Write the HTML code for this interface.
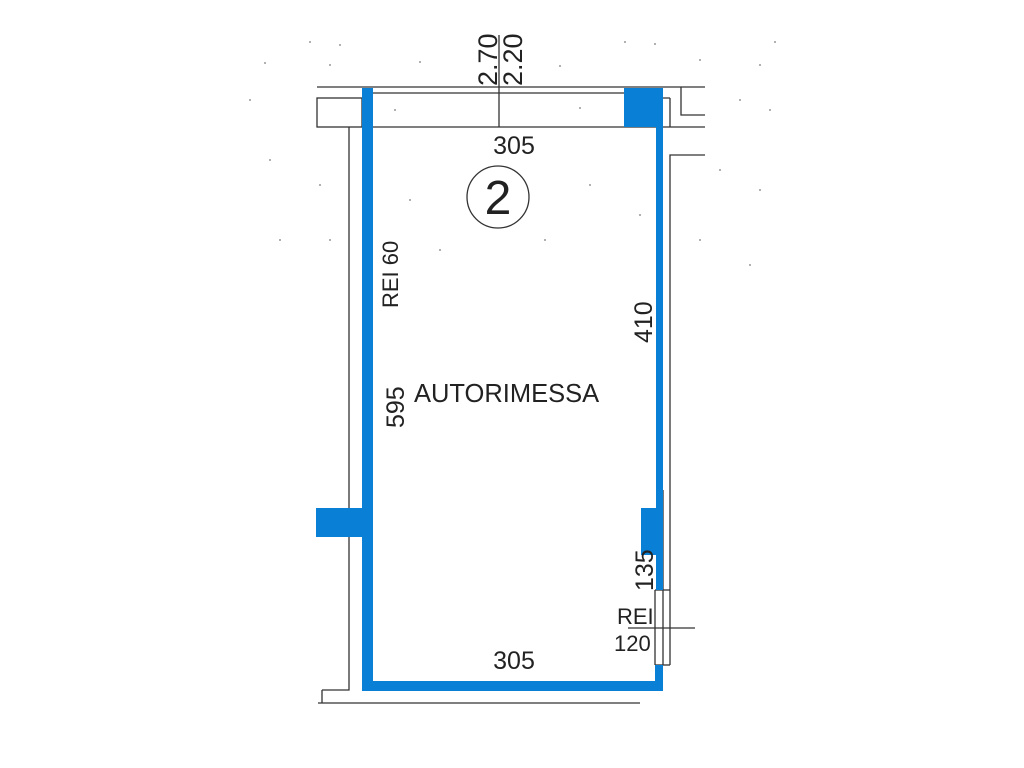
<!DOCTYPE html>
<html><head><meta charset="utf-8"><style>
html,body{margin:0;padding:0;background:#fff;}
svg{display:block;}
text{font-family:"Liberation Sans",sans-serif;fill:#222;}
</style></head><body>
<svg width="1024" height="768" viewBox="0 0 1024 768" xmlns="http://www.w3.org/2000/svg">
<g fill="#999">
<circle cx="310" cy="42" r="1"/><circle cx="340" cy="45" r="1"/><circle cx="625" cy="42" r="1"/><circle cx="655" cy="44" r="1"/><circle cx="775" cy="42" r="1"/>
<circle cx="265" cy="63" r="1"/><circle cx="330" cy="65" r="1"/><circle cx="420" cy="62" r="1"/><circle cx="560" cy="66" r="1"/><circle cx="700" cy="60" r="1"/><circle cx="760" cy="65" r="1"/>
<circle cx="250" cy="100" r="1"/><circle cx="740" cy="100" r="1"/><circle cx="770" cy="110" r="1"/><circle cx="395" cy="110" r="1"/><circle cx="580" cy="108" r="1"/>
<circle cx="270" cy="160" r="1"/><circle cx="320" cy="185" r="1"/><circle cx="410" cy="200" r="1"/><circle cx="590" cy="185" r="1"/><circle cx="720" cy="170" r="1"/><circle cx="760" cy="190" r="1"/>
<circle cx="280" cy="240" r="1"/><circle cx="330" cy="240" r="1"/><circle cx="440" cy="250" r="1"/><circle cx="545" cy="240" r="1"/><circle cx="640" cy="215" r="1"/><circle cx="700" cy="240" r="1"/><circle cx="750" cy="265" r="1"/>
</g>
<g stroke="#333" stroke-width="1.3" fill="none">
<line x1="317" y1="87" x2="705" y2="87"/>
<line x1="373" y1="93" x2="624" y2="93"/>
<line x1="624" y1="98" x2="670" y2="98"/>
<line x1="670" y1="98" x2="670" y2="127"/>
<rect x="317" y="98" width="45" height="29"/>
<line x1="362" y1="127" x2="705" y2="127"/>
<line x1="499" y1="35" x2="499" y2="127"/>
<polyline points="681,87 681,115 705,115"/>
<polyline points="705,155 670,155 670,665"/>
<line x1="663" y1="490" x2="663" y2="665"/>
<line x1="655" y1="665" x2="670" y2="665"/>
<line x1="655" y1="590" x2="670" y2="590"/>
<line x1="655" y1="590" x2="655" y2="665"/>
<line x1="628" y1="628" x2="695" y2="628"/>
<polyline points="349,127 349,690 322,690"/>
<line x1="322" y1="690" x2="322" y2="703"/>
<line x1="318" y1="703" x2="640" y2="703"/>
<circle cx="498" cy="197" r="31"/>
</g>
<g fill="#0a7fd6">
<rect x="362" y="88" width="11" height="602"/>
<rect x="362" y="681" width="301" height="10"/>
<rect x="655" y="665" width="8" height="26"/>
<rect x="656" y="126" width="7" height="464"/>
<rect x="624" y="88" width="39" height="39"/>
<rect x="641" y="508" width="22" height="47"/>
<rect x="316" y="508" width="46" height="29"/>
</g>
<text x="514" y="154" font-size="25" text-anchor="middle">305</text>
<text x="498" y="214" font-size="48" text-anchor="middle">2</text>
<text transform="translate(497,86) rotate(-90)" font-size="27">2.70</text>
<text transform="translate(522,86) rotate(-90)" font-size="27">2.20</text>
<text transform="translate(398,308) rotate(-90)" font-size="22" fill="#444">REI  60</text>
<text transform="translate(652,343) rotate(-90)" font-size="25">410</text>
<text transform="translate(404,428) rotate(-90)" font-size="25">595</text>
<text x="414" y="402" font-size="25.5">AUTORIMESSA</text>
<text transform="translate(653,591) rotate(-90)" font-size="25">135</text>
<text x="617" y="624" font-size="22" fill="#444">REI</text>
<text x="614" y="651" font-size="22" fill="#444">120</text>
<text x="514" y="669" font-size="25" text-anchor="middle">305</text>
</svg>
</body></html>
